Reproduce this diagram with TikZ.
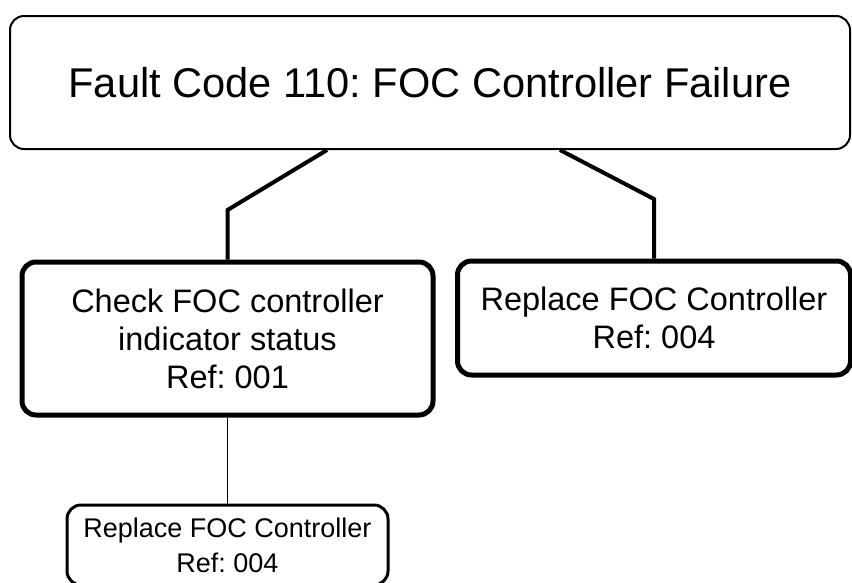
\documentclass[tikz,border=0pt]{standalone}
\usepackage{fontspec}
\setmainfont{Liberation Sans}
\frenchspacing
\begin{document}
\begin{tikzpicture}[x=1pt,y=-1pt,
  box/.style={draw=black,fill=white,rounded corners=14pt,align=center,inner sep=0pt},
  titlebox/.style={box,line width=2pt,font=\fontsize{41.6}{48}\selectfont},
  midbox/.style={box,line width=5pt,font=\fontsize{32.5}{38}\selectfont},
  lowbox/.style={box,line width=3pt,font=\fontsize{27}{35}\selectfont},
  thick link/.style={line width=4pt,line join=miter},
  thin link/.style={line width=1pt}]
\useasboundingbox (0,0) rectangle (852,582);
\clip (0,0) rectangle (852,582);
\node[titlebox,minimum width=840pt,minimum height=133pt] (top) at (430,82.5) {Fault Code 110: FOC Controller Failure};
\node[midbox,minimum width=411pt,minimum height=153pt] (left) at (227.5,338.5) {Check FOC controller\\indicator status\\Ref: 001};
\node[midbox,minimum width=393pt,minimum height=114pt] (right) at (654,318) {Replace FOC Controller\\Ref: 004};
\node[lowbox,minimum width=321pt,minimum height=80pt] (low) at (227.5,545) {Replace FOC Controller\\Ref: 004};
\coordinate (s1) at (327,0);
\coordinate (b1) at (227.5,210);
\coordinate (s2) at (560,0);
\coordinate (b2) at (654,199);
\draw[thick link] (top.south -| s1) -- (b1) -- (left.north);
\draw[thick link] (top.south -| s2) -- (b2) -- (right.north);
\draw[thin link] (left.south) -- (low.north);
\end{tikzpicture}
\end{document}
